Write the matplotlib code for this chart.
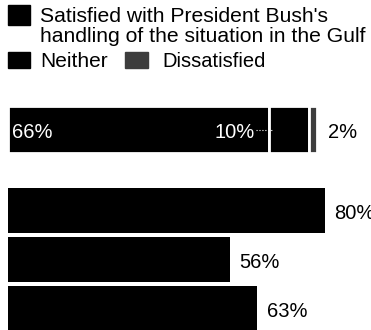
import matplotlib.pyplot as plt
from matplotlib.patches import Rectangle

plt.rcParams['font.family'] = ['Liberation Sans', 'DejaVu Sans']

# top bar: split of opinion
split_labels = ['Satisfied', 'Neither', 'Dissatisfied']
split_values = [66, 10, 2]
split_colors = ['#000000', '#000000', '#3d3d3d']

# lower bars: satisfied share only
satisfied_values = [80, 56, 63]

fig = plt.figure(figsize=(3.71, 3.30), dpi=100)
W, H = 371, 330

# legend (figure pixel layout)
def box(x, y, w, h, color):
    fig.patches.append(Rectangle((x / W, 1 - (y + h) / H), w / W, h / H,
                                 transform=fig.transFigure, color=color))

box(8, 5, 22, 20, '#000000')
fig.text(40 / W, 1 - 22 / H, "Satisfied with President Bush's", fontsize=15.2, va='baseline')
fig.text(40 / W, 1 - 42 / H, "handling of the situation in the Gulf", fontsize=15.2, va='baseline')
box(8, 52, 22, 16, '#000000')
fig.text(40 / W, 1 - 67 / H, 'Neither', fontsize=15, va='baseline')
box(125, 52, 23, 16, '#3d3d3d')
fig.text(162 / W, 1 - 67 / H, 'Dissatisfied', fontsize=14.5, va='baseline')

# bars axes: x in percent, 1 y unit = 49 px
ax = fig.add_axes([8 / W, 0, 1 - 8 / W, 1])
ax.set_xlim(0, (W - 8) / 3.96)
ax.set_ylim((H - 129.5) / 49, -129.5 / 49)
ax.axis('off')

pos = [0, 1.653, 2.653, 3.653]

left = 0
for v, c in zip(split_values, split_colors):
    ax.barh(pos[0], v, left=left, height=0.96, color=c, edgecolor='white', linewidth=2.0)
    left += v

ax.text(1, pos[0] + 0.06, f'{split_values[0]}%', color='white', fontsize=14.5, va='center')
ax.text(62.4, pos[0] + 0.06, f'{split_values[1]}%', color='white', fontsize=14.5,
        va='center', ha='right')
ax.plot([62.6, 66.6], [pos[0] + 0.02] * 2, ':', color='white', lw=0.8)
ax.text(left + 2.8, pos[0] + 0.06, f'{split_values[2]}%', fontsize=14.5, va='center')

for p, v in zip(pos[1:], satisfied_values):
    ax.barh(p, v, height=0.92, color='#000000')
    ax.text(v + 2.3, p + 0.07, f'{v}%', fontsize=14.5, va='center')

fig.savefig('out.png', dpi=100)
